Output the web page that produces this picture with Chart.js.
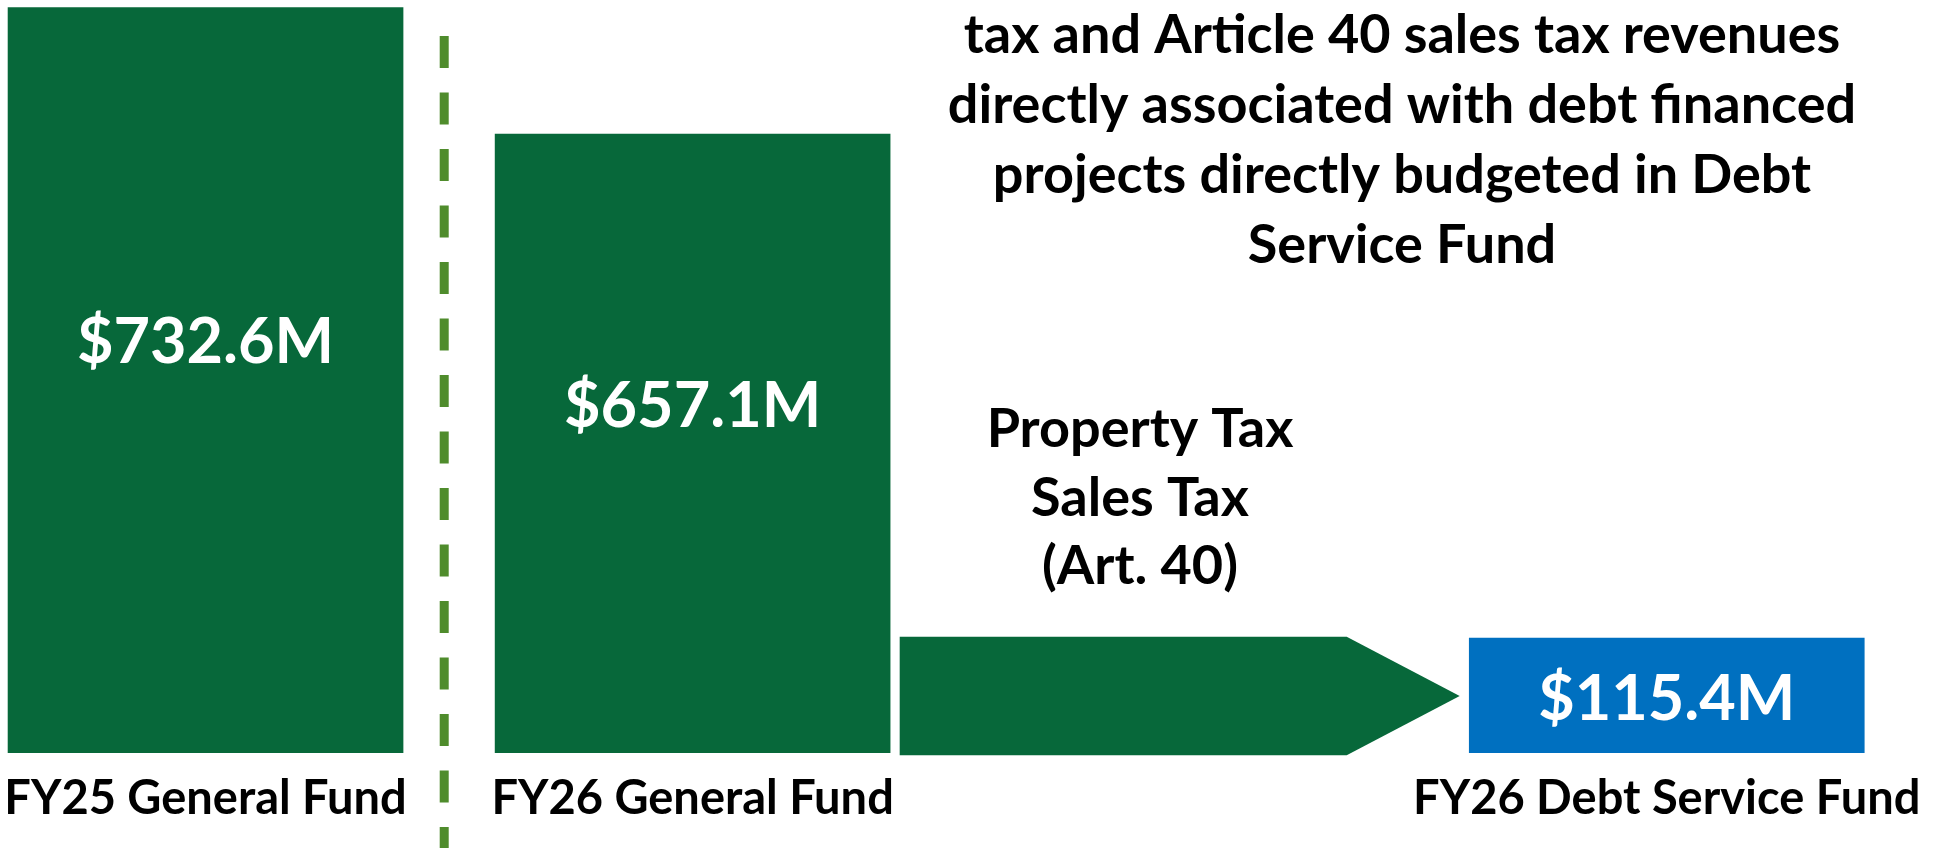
<!DOCTYPE html>
<html>
<head>
<meta charset="utf-8">
<script src="https://cdn.jsdelivr.net/npm/chart.js@4.4.1/dist/chart.umd.min.js"></script>
<style>
  html, body { margin: 0; padding: 0; background: #fff; }
</style>
</head>
<body>
<canvas id="chart" width="1959" height="848"></canvas>
<script>
// funds and their budget amounts ($M)
const fundLabels = ["FY25 General Fund", "FY26 General Fund", "FY26 Debt Service Fund"];
const fundValues = [732.6, 657.1, 115.4];
// bar heights as drawn on the slide (% of the tallest bar, the slide is not to scale)
const drawnHeights = [100, 83.0, 15.4];
// slot of each fund along the x axis, the arrow sits in slot 2
const fundSlots = [0, 1, 3];
const arrowSlot = 2;
// arrow from the general fund into the debt service fund (same units as drawnHeights)
const arrowSpan = [-0.3, 15.6];
const arrowText = ["Property Tax", "Sales Tax", "(Art. 40)"];
const noteLines = [
  "tax and Article 40 sales tax revenues",
  "directly associated with debt financed",
  "projects directly budgeted in Debt",
  "Service Fund"
];

const GREEN = "#07683a";
const BLUE = "#0070c0";
const DASH = "#4f8c2c";
const FONT = "Lato, 'Open Sans', sans-serif";

const fundPoints = fundSlots.map((s, i) => ({ x: s, y: drawnHeights[i] }));

const slidePlugin = {
  id: "slide",
  beforeDatasetsDraw(chart) {
    // arrow: pentagon over the (invisible) floating bar
    const ctx = chart.ctx;
    const el = chart.getDatasetMeta(1).data[0];
    const p = el.getProps(["x", "y", "base", "width"], true);
    const left = p.x - p.width / 2;
    const right = p.x + p.width / 2;
    const top = Math.min(p.y, p.base);
    const bottom = Math.max(p.y, p.base);
    const head = 113;
    ctx.save();
    ctx.fillStyle = GREEN;
    ctx.beginPath();
    ctx.moveTo(left, top);
    ctx.lineTo(right - head, top);
    ctx.lineTo(right, (top + bottom) / 2);
    ctx.lineTo(right - head, bottom);
    ctx.lineTo(left, bottom);
    ctx.closePath();
    ctx.fill();
    ctx.restore();
  },
  afterDatasetsDraw(chart) {
    const ctx = chart.ctx;
    const xs = chart.scales.x;
    ctx.save();

    // value labels inside the bars
    const ratios = [0.554, 0.564, 0.487];
    ctx.fillStyle = "#fff";
    ctx.textAlign = "center";
    ctx.textBaseline = "alphabetic";
    ctx.font = "bold 63px " + FONT;
    chart.getDatasetMeta(0).data.forEach((el, i) => {
      const p = el.getProps(["x", "y", "base"], true);
      const cy = p.base - ratios[i] * (p.base - p.y);
      ctx.fillText("$" + fundValues[i].toFixed(1) + "M", p.x, cy + 23);
    });

    // text above the arrow
    ctx.fillStyle = "#000";
    ctx.font = "bold 54px " + FONT;
    arrowText.forEach((t, i) => ctx.fillText(t, 1140, 447 + i * 68.5));

    // note at the top right
    noteLines.forEach((t, i) => ctx.fillText(t, 1402, 53 + i * 70));

    // dashed divider between FY25 and FY26
    const dx = xs.getPixelForValue(0.49);
    ctx.strokeStyle = DASH;
    ctx.lineWidth = 9;
    ctx.setLineDash([32, 24.5]);
    ctx.beginPath();
    ctx.moveTo(dx, 36);
    ctx.lineTo(dx, chart.height);
    ctx.stroke();
    ctx.restore();
  }
};

new Chart(document.getElementById("chart"), {
  type: "bar",
  data: {
    datasets: [
      {
        label: "Funds",
        data: fundPoints,
        backgroundColor: [GREEN, GREEN, BLUE],
        barThickness: 395,
        grouped: false
      },
      {
        label: "Transfer",
        data: [{ x: arrowSlot, y: arrowSpan }],
        backgroundColor: "rgba(0,0,0,0)",
        barThickness: 560,
        grouped: false
      }
    ]
  },
  options: {
    responsive: false,
    animation: false,
    layout: { padding: 0 },
    plugins: {
      legend: { display: false },
      tooltip: { enabled: false }
    },
    scales: {
      x: {
        type: "linear",
        offset: false,
        min: -0.422,
        max: 3.6,
        border: { display: false },
        grid: { display: false, drawTicks: false },
        afterBuildTicks: (scale) => {
          scale.ticks = fundSlots.map(v => ({ value: v }));
        },
        afterFit: (scale) => {
          scale.height = 95;
          // labels fit inside the canvas, keep the plot area full width
          scale.paddingLeft = 0;
          scale.paddingRight = 0;
        },
        ticks: {
          padding: 18,
          maxRotation: 0,
          autoSkip: false,
          color: "#000",
          font: { family: FONT, size: 47, weight: "bold" },
          callback: (v) => fundLabels[fundSlots.indexOf(v)] || ""
        }
      },
      y: {
        display: false,
        min: 0,
        max: 101
      }
    }
  },
  plugins: [slidePlugin]
});
</script>
</body>
</html>
